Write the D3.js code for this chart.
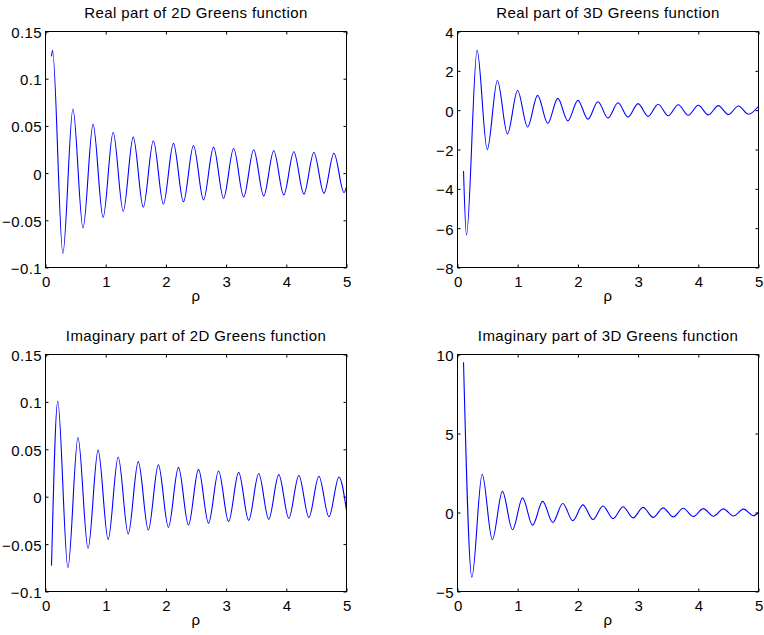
<!DOCTYPE html>
<html>
<head>
<meta charset="utf-8">
<script src="https://cdn.jsdelivr.net/npm/d3@7"></script>
<style>
  body { margin: 0; background: #fff; }
  svg { display: block; }
  text { font-family: "Liberation Sans", Arial, Helvetica, sans-serif; font-size: 15px; letter-spacing: 0.4px; fill: #000; }
</style>
</head>
<body>
<svg id="fig" width="764" height="635"></svg>
<script>
// Sampled turning points (plus end points) of each curve, rho on the x axis.
const re2dRho = [0.100, 0.1166, 0.2881, 0.4560, 0.6233, 0.7903, 0.9572, 1.1241, 1.2908, 1.4576, 1.6243,
  1.7917, 1.9583, 2.1250, 2.2917, 2.4583, 2.6250, 2.7917, 2.9583, 3.1250, 3.2917, 3.4583, 3.6250,
  3.7917, 3.9583, 4.1250, 4.2917, 4.4583, 4.6250, 4.7917, 4.9583, 5.000];
const re2dVal = [0.1236, 0.1302, -0.0851, 0.0679, -0.0581, 0.0516, -0.0469, 0.0433, -0.0404, 0.0381, -0.0361,
  0.0343, -0.0328, 0.0315, -0.0304, 0.0293, -0.0284, 0.0275, -0.0267, 0.0260, -0.0253, 0.0247, -0.0241,
  0.0236, -0.0231, 0.0226, -0.0222, 0.0218, -0.0214, 0.0210, -0.0206, -0.0145];

const im2dRho = [0.100, 0.2033, 0.3722, 0.5397, 0.7068, 0.8738, 1.0406, 1.2074, 1.3742, 1.5410, 1.7077,
  1.8750, 2.0417, 2.2083, 2.3750, 2.5417, 2.7083, 2.8750, 3.0417, 3.2083, 3.3750, 3.5417, 3.7083,
  3.8750, 4.0417, 4.2083, 4.3750, 4.5417, 4.7083, 4.8750, 5.000];
const im2dVal = [-0.0727, 0.1007, -0.0750, 0.0624, -0.0546, 0.0491, -0.0450, 0.0418, -0.0392, 0.0370, -0.0352,
  0.0336, -0.0322, 0.0309, -0.0298, 0.0288, -0.0279, 0.0271, -0.0263, 0.0257, -0.0250, 0.0244, -0.0239,
  0.0233, -0.0229, 0.0224, -0.0220, 0.0216, -0.0212, 0.0208, -0.0145];

const re3dRho = [0.100, 0.149, 0.325, 0.494, 0.6625, 0.830, 0.998, 1.1643, 1.331, 1.499, 1.666, 1.833,
  2.000, 2.1667, 2.3333, 2.500, 2.6667, 2.8333, 3.000, 3.1667, 3.3333, 3.500, 3.6667, 3.8333,
  4.000, 4.1667, 4.3333, 4.500, 4.6667, 4.8333, 5.000];
const re3dVal = [-3.09, -6.35, 3.04, -2.01, 1.505, -1.203, 1.002, -0.858, 0.751, -0.667, 0.600, -0.545,
  0.500, -0.4615, 0.4286, -0.400, 0.375, -0.3529, 0.3333, -0.3158, 0.300, -0.2857, 0.2727, -0.2609,
  0.250, -0.240, 0.2308, -0.2222, 0.2143, -0.2069, 0.200];

const im3dRho = [0.100, 0.2384, 0.4098, 0.5785, 0.7462, 0.9136, 1.0807, 1.2477, 1.4147, 1.5818, 1.7487,
  1.9155, 2.0833, 2.2500, 2.4167, 2.5833, 2.7500, 2.9167, 3.0833, 3.2500, 3.4167, 3.5833, 3.7500,
  3.9167, 4.0833, 4.2500, 4.4167, 4.5833, 4.7500, 4.9167, 5.000];
const im3dVal = [9.51, -4.09, 2.42, -1.72, 1.337, -1.093, 0.924, -0.801, 0.707, -0.632, 0.5716,
  -0.5219, 0.480, -0.4444, 0.4138, -0.3871, 0.3636, -0.3429, 0.3243, -0.3077, 0.2927, -0.2791, 0.2667,
  -0.2553, 0.2449, -0.2353, 0.2264, -0.2182, 0.2105, -0.2034, 0.000];

// Tick values and their printed labels.
const xTicks = [0, 1, 2, 3, 4, 5];
const xLabels = ["0", "1", "2", "3", "4", "5"];
const yTicks2d = [-0.1, -0.05, 0, 0.05, 0.1, 0.15];
const yLabels2d = ["\u22120.1", "\u22120.05", "0", "0.05", "0.1", "0.15"];
const yTicksRe3d = [-8, -6, -4, -2, 0, 2, 4];
const yLabelsRe3d = ["\u22128", "\u22126", "\u22124", "\u22122", "0", "2", "4"];
const yTicksIm3d = [-5, 0, 5, 10];
const yLabelsIm3d = ["\u22125", "0", "5", "10"];

const titles = [
  "Real part of 2D Greens function",
  "Real part of 3D Greens function",
  "Imaginary part of 2D Greens function",
  "Imaginary part of 3D Greens function"
];

// Axes boxes: [left, top, right, bottom] in page pixels.
const panels = [
  { title: titles[0], rho: re2dRho, val: re2dVal, yDomain: [-0.1, 0.15], yTicks: yTicks2d, yLabels: yLabels2d, box: [45.5, 31.5, 346.5, 267.5] },
  { title: titles[1], rho: re3dRho, val: re3dVal, yDomain: [-8, 4], yTicks: yTicksRe3d, yLabels: yLabelsRe3d, box: [457.5, 31.5, 758.5, 267.5] },
  { title: titles[2], rho: im2dRho, val: im2dVal, yDomain: [-0.1, 0.15], yTicks: yTicks2d, yLabels: yLabels2d, box: [45.5, 354.5, 346.5, 591.5] },
  { title: titles[3], rho: im3dRho, val: im3dVal, yDomain: [-5, 10], yTicks: yTicksIm3d, yLabels: yLabelsIm3d, box: [457.5, 354.5, 758.5, 591.5] }
];

const svg = d3.select("#fig");
svg.append("rect").attr("width", 764).attr("height", 635).attr("fill", "#fff");

const tickLen = 3;

panels.forEach(p => {
  const [L, T, R, B] = p.box;
  const x = d3.scaleLinear().domain([0, 5]).range([L, R]);
  const y = d3.scaleLinear().domain(p.yDomain).range([B, T]);
  const g = svg.append("g");

  // curve
  const pts = p.rho.map((r, i) => [r, p.val[i]]);
  const line = d3.line().x(d => x(d[0])).y(d => y(d[1])).curve(d3.curveMonotoneX);
  g.append("path").datum(pts).attr("d", line)
    .attr("fill", "none").attr("stroke", "#0000ff").attr("stroke-width", 1.1);

  // inward ticks on all four sides
  const bottomAxis = d3.axisBottom(x).tickValues(xTicks).tickSize(-tickLen).tickFormat((d, i) => xLabels[i]);
  const topAxis = d3.axisTop(x).tickValues(xTicks).tickSize(-tickLen).tickFormat("");
  const leftAxis = d3.axisLeft(y).tickValues(p.yTicks).tickSize(-tickLen).tickFormat((d, i) => p.yLabels[i]);
  const rightAxis = d3.axisRight(y).tickValues(p.yTicks).tickSize(-tickLen).tickFormat("");

  const styleAxis = sel => {
    sel.attr("font-size", null).attr("font-family", null);
    sel.select(".domain").remove();
    sel.selectAll(".tick line").attr("stroke", "#000").attr("stroke-width", 1);
    sel.selectAll("text").attr("fill", "#000");
  };

  const gb = g.append("g").attr("transform", `translate(0,${B})`).call(bottomAxis).call(styleAxis);
  gb.selectAll(".tick text").attr("y", 19.5).attr("dy", null).attr("dx", "0.3px");
  g.append("g").attr("transform", `translate(0,${T})`).call(topAxis).call(styleAxis);
  const gl = g.append("g").attr("transform", `translate(${L},0)`).call(leftAxis).call(styleAxis);
  gl.selectAll(".tick text").attr("x", -3.5).attr("dy", "0.4em");
  g.append("g").attr("transform", `translate(${R},0)`).call(rightAxis).call(styleAxis);

  // box
  g.append("rect").attr("x", L).attr("y", T).attr("width", R - L).attr("height", B - T)
    .attr("fill", "none").attr("stroke", "#000").attr("stroke-width", 1);

  // title and axis label
  g.append("text").attr("x", (L + R) / 2).attr("y", T - 14).attr("text-anchor", "middle").text(p.title);
  g.append("text").attr("x", (L + R) / 2).attr("y", B + 33).attr("text-anchor", "middle").text("\u03c1");
});
</script>
</body>
</html>
